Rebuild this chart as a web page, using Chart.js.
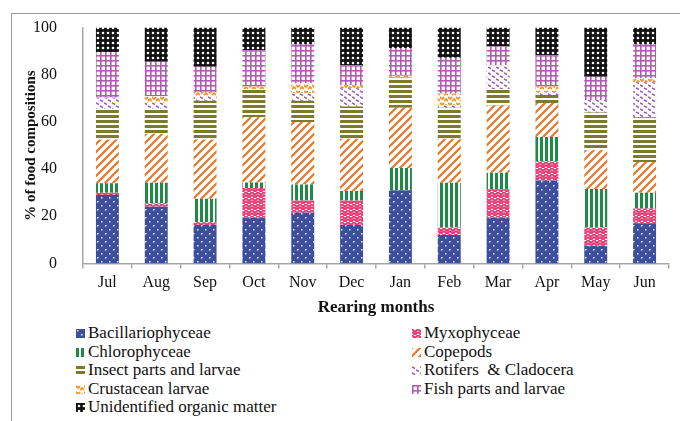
<!DOCTYPE html>
<html>
<head>
<meta charset="utf-8">
<script src="https://cdn.jsdelivr.net/npm/chart.js@4.4.1/dist/chart.umd.min.js"></script>
<style>
  body { margin: 0; background: #fff; }
  #wrap { position: relative; width: 680px; height: 421px; overflow: hidden; }
  #frame { position: absolute; left: 11px; top: 13px; width: 700px; height: 420px;
           border-top: 1.5px solid #9a9a9a; border-left: 1.5px solid #9a9a9a; }
  #box { position: absolute; left: 0; top: 0; width: 680px; height: 320px; }
  #legend { position: absolute; left: 0; top: 324px; width: 680px;
            font-family: "Liberation Serif", serif; font-size: 17px; color: #111; }
  .item { position: absolute; height: 18px; line-height: 18px; white-space: pre; }
  .item canvas { position: absolute; left: 0; top: 5px; }
  .item span { position: absolute; left: 12px; top: 0; }
</style>
</head>
<body>
<div id="wrap">
  <div id="frame"></div>
  <div id="box"><canvas id="chart"></canvas></div>
  <div id="legend"></div>
</div>
<script>
const months = ["Jul", "Aug", "Sep", "Oct", "Nov", "Dec", "Jan", "Feb", "Mar", "Apr", "May", "Jun"];

const bacillariophyceae = [29, 24, 16.3, 19.4, 21.5, 16.3, 31, 12, 19.4, 35.2, 7.5, 17];
const myxophyceae       = [1, 1.5, 1.1, 12.6, 5.2, 10.4, 0, 3.2, 12, 8.1, 7.7, 6.3];
const chlorophyceae     = [4, 8.7, 10, 2.3, 6.8, 4, 9.5, 19, 7, 10.3, 16.4, 6.7];
const copepods          = [18.5, 20.8, 25.1, 27.7, 26.5, 22.2, 25.5, 18.7, 28.6, 14.4, 16.4, 13];
const insectParts       = [13, 10.5, 16.5, 11.8, 9, 13.6, 12.8, 13.1, 7, 3.4, 16, 19];
const rotifers          = [4.5, 2.5, 2, 0, 3, 7.8, 0, 1, 9.4, 1.1, 5.3, 14.8];
const crustaceanLarvae  = [0.5, 3, 1.6, 1.2, 4.4, 1.4, 0.8, 5, 0.6, 2.5, 0, 1.7];
const fishParts         = [19, 14.5, 10.8, 15.4, 16.4, 8.3, 11.8, 15.2, 8, 13.3, 9.9, 14.3];
const unidentified      = [10.5, 14.5, 16.6, 9.6, 7.2, 16, 8.6, 12.8, 8, 11.7, 20.8, 7.2];

const yTicks = [0, 20, 40, 60, 80, 100];

// pattern tiles
function tile(w, h, draw) {
    const c = document.createElement('canvas');
    c.width = w; c.height = h;
    const g = c.getContext('2d');
    draw(g, w, h);
    return document.createElement('canvas').getContext('2d').createPattern(c, 'repeat');
}

const patBacil = tile(8, 8, (g, w, h) => {
    g.fillStyle = '#3d4f9b'; g.fillRect(0, 0, w, h);
    g.fillStyle = '#e8ecff';
    g.fillRect(1, 1, 1.5, 1.5); g.fillRect(5, 5, 1.5, 1.5);
});
const patMyxo = tile(6, 6, (g, w, h) => {
    g.fillStyle = '#fff'; g.fillRect(0, 0, w, h);
    g.strokeStyle = '#e5336d'; g.lineWidth = 1.8;
    g.beginPath(); g.moveTo(0, 0); g.lineTo(3, 3); g.lineTo(6, 0);
    g.moveTo(0, 3); g.lineTo(3, 6); g.lineTo(6, 3);
    g.stroke();
});
const patChloro = tile(5, 5, (g, w, h) => {
    g.fillStyle = '#fff'; g.fillRect(0, 0, w, h);
    g.fillStyle = '#1f8a45'; g.fillRect(0, 0, 3, h);
});
const patCope = tile(8, 8, (g, w, h) => {
    g.fillStyle = '#fff'; g.fillRect(0, 0, w, h);
    g.strokeStyle = '#e8772a'; g.lineWidth = 2.2;
    g.beginPath();
    g.moveTo(-1, 9); g.lineTo(9, -1);
    g.moveTo(-1, 1); g.lineTo(1, -1);
    g.moveTo(7, 9); g.lineTo(9, 7);
    g.stroke();
});
const patInsect = tile(5, 5, (g, w, h) => {
    g.fillStyle = '#fff'; g.fillRect(0, 0, w, h);
    g.fillStyle = '#7b7a2d'; g.fillRect(0, 0, w, 3);
});
const patRotif = tile(8, 6, (g, w, h) => {
    g.fillStyle = '#fff'; g.fillRect(0, 0, w, h);
    g.strokeStyle = '#9b59b8'; g.lineWidth = 1.4;
    g.beginPath();
    g.moveTo(0, 1); g.lineTo(3, 2.5);
    g.moveTo(4, 4); g.lineTo(7, 5.5);
    g.stroke();
});
const patCrust = tile(8, 6, (g, w, h) => {
    g.fillStyle = '#fff'; g.fillRect(0, 0, w, h);
    g.strokeStyle = '#f0992b'; g.lineWidth = 1.8;
    g.beginPath();
    g.moveTo(0, 1); g.lineTo(2, 3); g.lineTo(4, 1);
    g.moveTo(4, 5); g.lineTo(6, 3); g.lineTo(8, 5);
    g.stroke();
});
const patFish = tile(5, 5, (g, w, h) => {
    g.fillStyle = '#fff'; g.fillRect(0, 0, w, h);
    g.fillStyle = '#b458b4';
    g.fillRect(0, 0, 1.6, h); g.fillRect(0, 0, w, 1.6);
});
const patUnid = tile(5, 5, (g, w, h) => {
    g.fillStyle = '#111'; g.fillRect(0, 0, w, h);
    g.fillStyle = '#fff';
    g.beginPath(); g.arc(3, 3, 1.3, 0, Math.PI * 2); g.fill();
});

const series = [
    { label: 'Bacillariophyceae', data: bacillariophyceae, pat: patBacil },
    { label: 'Myxophyceae', data: myxophyceae, pat: patMyxo },
    { label: 'Chlorophyceae', data: chlorophyceae, pat: patChloro },
    { label: 'Copepods', data: copepods, pat: patCope },
    { label: 'Insect parts and larvae', data: insectParts, pat: patInsect },
    { label: 'Rotifers  & Cladocera', data: rotifers, pat: patRotif },
    { label: 'Crustacean larvae', data: crustaceanLarvae, pat: patCrust },
    { label: 'Fish parts and larvae', data: fishParts, pat: patFish },
    { label: 'Unidentified organic matter', data: unidentified, pat: patUnid }
];

const serif = '"Liberation Serif", "Times New Roman", serif';

new Chart(document.getElementById('chart'), {
    type: 'bar',
    data: {
        labels: months,
        datasets: series.map(s => ({
            label: s.label,
            data: s.data,
            backgroundColor: s.pat,
            borderWidth: 0,
            barPercentage: 0.47,
            categoryPercentage: 1
        }))
    },
    options: {
        responsive: true,
        maintainAspectRatio: false,
        animation: false,
        layout: { padding: { left: 20, right: 11, top: 11, bottom: 2 } },
        plugins: { legend: { display: false }, tooltip: { enabled: false } },
        scales: {
            x: {
                stacked: true,
                grid: { display: true, drawOnChartArea: false, drawTicks: true, tickLength: 5, color: '#a6a6a6', lineWidth: 1.5, offset: true },
                border: { color: '#a6a6a6', width: 1.5 },
                ticks: { color: '#111', padding: 5, font: { family: serif, size: 16 } },
                title: { display: true, text: 'Rearing months', color: '#111', padding: 0, font: { family: serif, size: 17, weight: 'bold' } }
            },
            y: {
                stacked: true,
                min: 0,
                max: 100,
                afterBuildTicks: axis => { axis.ticks = yTicks.map(v => ({ value: v })); },
                afterFit: axis => { axis.width = 63; },
                grid: { display: false },
                border: { color: '#a6a6a6', width: 1.5 },
                ticks: { color: '#111', padding: 18, font: { family: serif, size: 16 } },
                title: { display: true, text: '% of food compositions', color: '#111', padding: 2, font: { family: serif, size: 15, weight: 'bold' } }
            }
        }
    }
});

// legend in two columns, like the original
const legendEl = document.getElementById('legend');
const colX = [76, 412];
series.forEach((s, i) => {
    const div = document.createElement('div');
    div.className = 'item';
    div.style.left = colX[i % 2] + 'px';
    div.style.top = (Math.floor(i / 2) * 18.5) + 'px';
    const sw = document.createElement('canvas');
    sw.width = 9; sw.height = 9;
    const g = sw.getContext('2d');
    g.fillStyle = s.pat; g.fillRect(0, 0, 9, 9);
    const span = document.createElement('span');
    span.textContent = s.label;
    div.appendChild(sw);
    div.appendChild(span);
    legendEl.appendChild(div);
});
</script>
</body>
</html>
